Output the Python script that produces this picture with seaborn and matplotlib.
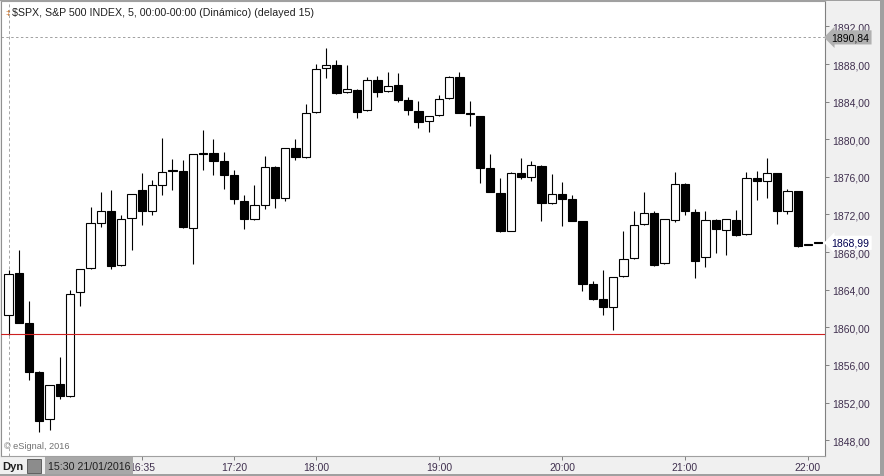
import numpy as np
import pandas as pd
import seaborn as sns
import matplotlib
matplotlib.use("Agg")
import matplotlib.pyplot as plt
from matplotlib.patches import Rectangle
from matplotlib.transforms import blended_transform_factory


# 5 minute candles, 15:30 -> 22:05
opens = [1861.34, 1865.78, 1860.43, 1855.21, 1850.21, 1853.94, 1852.66, 1863.72, 1866.28, 1871.06,
         1872.34, 1866.60, 1871.60, 1874.57, 1872.34, 1875.11, 1876.70, 1876.60, 1870.60, 1878.50,
         1878.51, 1877.66, 1876.17, 1873.40, 1871.49, 1872.98, 1877.02, 1873.72, 1879.04, 1878.09,
         1882.87, 1887.55, 1887.87, 1884.99, 1885.20, 1883.08, 1886.28, 1885.10, 1885.74, 1884.15,
         1882.98, 1881.91, 1882.55, 1884.36, 1886.60, 1882.76, 1882.45, 1876.91, 1874.26, 1870.28,
         1876.38, 1875.96, 1877.13, 1873.26, 1874.15, 1873.62, 1871.30, 1864.57, 1863.04, 1862.19,
         1865.43, 1867.34, 1870.96, 1872.13, 1866.81, 1871.38, 1875.24, 1872.27, 1867.45, 1871.41,
         1870.32, 1871.41, 1869.89, 1875.85, 1875.53, 1876.38, 1872.34, 1874.47, 1868.82, 1869.00]
highs = [1866.10, 1868.22, 1862.80, 1855.30, 1853.90, 1856.84, 1863.97, 1866.20, 1872.80, 1874.39,
         1874.60, 1871.90, 1874.20, 1876.41, 1875.67, 1880.14, 1877.90, 1877.80, 1878.45, 1880.99,
         1880.03, 1878.65, 1876.73, 1874.07, 1875.14, 1878.22, 1877.16, 1879.10, 1880.03, 1883.76,
         1888.01, 1889.71, 1888.44, 1887.90, 1885.32, 1886.66, 1886.73, 1887.16, 1887.05, 1884.47,
         1884.07, 1882.50, 1884.68, 1886.70, 1887.16, 1884.07, 1882.50, 1878.44, 1875.88, 1876.49,
         1878.00, 1877.69, 1877.27, 1876.31, 1875.46, 1874.07, 1871.35, 1864.90, 1866.10, 1865.35,
         1870.24, 1872.37, 1874.39, 1872.37, 1871.50, 1876.52, 1875.35, 1872.59, 1872.37, 1871.52,
         1871.50, 1872.48, 1876.52, 1876.63, 1878.01, 1876.40, 1874.71, 1874.50, 1868.85, 1869.02]
lows = [1859.20, 1860.43, 1854.43, 1848.90, 1849.10, 1852.34, 1852.60, 1862.30, 1866.20, 1870.70,
        1866.23, 1866.50, 1868.25, 1870.91, 1871.98, 1874.07, 1874.64, 1870.60, 1866.73, 1876.77,
        1876.23, 1874.74, 1873.15, 1870.49, 1871.40, 1872.62, 1872.72, 1873.44, 1877.83, 1878.00,
        1882.80, 1886.55, 1884.82, 1884.95, 1882.30, 1883.00, 1884.53, 1885.05, 1884.00, 1882.62,
        1881.23, 1880.81, 1882.50, 1884.30, 1882.80, 1881.45, 1875.38, 1874.40, 1870.14, 1870.20,
        1875.80, 1875.60, 1871.34, 1873.15, 1870.81, 1871.30, 1863.90, 1862.94, 1861.34, 1859.74,
        1865.40, 1867.30, 1870.90, 1866.55, 1866.75, 1871.23, 1871.98, 1865.28, 1866.45, 1867.87,
        1867.72, 1869.74, 1869.85, 1873.57, 1873.79, 1871.02, 1872.02, 1868.57, 1868.75, 1868.95]
closes = [1865.64, 1860.49, 1855.28, 1850.06, 1853.83, 1852.66, 1863.51, 1866.17, 1871.06, 1872.34,
          1866.49, 1871.49, 1874.15, 1872.40, 1875.11, 1876.49, 1876.62, 1870.62, 1878.40, 1878.45,
          1877.72, 1876.23, 1873.68, 1871.55, 1872.98, 1877.02, 1873.79, 1879.04, 1878.15, 1882.77,
          1887.45, 1887.87, 1884.96, 1885.32, 1882.94, 1886.28, 1885.06, 1885.64, 1884.21, 1883.08,
          1881.87, 1882.45, 1884.26, 1886.60, 1882.83, 1882.70, 1876.91, 1874.43, 1870.28, 1876.38,
          1876.02, 1877.23, 1873.26, 1874.15, 1873.68, 1871.34, 1864.64, 1863.04, 1862.19, 1865.32,
          1867.23, 1870.85, 1872.13, 1866.66, 1871.49, 1875.21, 1872.34, 1867.09, 1871.41, 1870.49,
          1871.49, 1869.85, 1875.85, 1875.53, 1876.38, 1872.34, 1874.47, 1868.68, 1868.78, 1868.99]

tick_pos = [13, 22, 30, 42, 54, 66, 78]
tick_labels = ["16:35", "17:20", "18:00", "19:00", "20:00", "21:00", "22:00"]
price_ticks = list(range(1848, 1893, 4))
ref_high = 1890.84
ref_line = 1859.3
last_price = 1868.99

title = "$SPX, S&P 500 INDEX, 5, 00:00-00:00 (Dinámico) (delayed 15)"

sns.set_theme(style="white")
plt.rcParams['font.family'] = ['Liberation Sans', 'DejaVu Sans']

df = pd.DataFrame(dict(o=opens, h=highs, l=lows, c=closes))
df['i'] = np.arange(len(df))
df['up'] = df.c > df.o

W, H = 884, 477
fig = plt.figure(figsize=(W / 100, H / 100), dpi=100, facecolor='#f0f0f0')
ax = fig.add_axes([1 / W, 20 / H, 824 / W, 455 / H])
ax.set_facecolor('white')

# wicks then bodies
ax.vlines(df.i, df.l, df.h, color='black', lw=0.8, zorder=2)
body = (df.c - df.o).abs().clip(lower=0.12)
bottom = df[['o', 'c']].min(axis=1)
ax.bar(df.i, body, bottom=bottom, width=0.81,
       color=np.where(df.up, 'white', 'black'),
       edgecolor='black', linewidth=0.8, zorder=3)

ax.axhline(ref_high, color='#a0a0a0', lw=0.7, ls=(0, (2.5, 2.5)), zorder=1)
ax.axhline(ref_line, color='#cc2020', lw=0.8, zorder=4)
ax.axvline(0, color='#a8a8a8', lw=0.7, ls=(0, (3, 2.5)), zorder=1)

ax.set_xlim(-0.732, 79.66)
ax.set_ylim(1846.31, 1894.71)

ax.yaxis.tick_right()
ax.set_yticks(price_ticks, [f"{v:.2f}".replace('.', ',') for v in price_ticks])
ax.set_xticks(tick_pos, tick_labels)
ax.tick_params(axis='y', right=True, left=False, labelright=True, labelleft=False,
               direction='out', length=3, width=0.7, color='#808080',
               labelsize=7.5, labelcolor='#40304f', pad=2)
ax.tick_params(axis='x', bottom=True, direction='out', length=3, width=0.7,
               color='#808080', labelsize=7.5, labelcolor='#40304f', pad=1.5)

for side, col in [('left', '#909090'), ('right', '#808080'),
                  ('top', '#a0a0a0'), ('bottom', '#a0a0a0')]:
    ax.spines[side].set_visible(True)
    ax.spines[side].set_color(col)
    ax.spines[side].set_linewidth(0.8)

# price tags on the right axis
trans = blended_transform_factory(ax.transAxes, ax.transData)
ax.text(1.008, ref_high, f"{ref_high:.2f}".replace('.', ','), transform=trans,
        fontsize=7.5, va='center', ha='left', color='black', clip_on=False, zorder=10,
        bbox=dict(boxstyle='larrow,pad=0.2', fc='#b0b0b0', ec='none'))
ax.text(1.008, last_price, f"{last_price:.2f}".replace('.', ','), transform=trans,
        fontsize=7.5, va='center', ha='left', color='#000050', clip_on=False, zorder=10,
        bbox=dict(boxstyle='larrow,pad=0.2', fc='white', ec='none'))

# header / footer
fig.text(5 / W, 1 - 13 / H, "‡", fontsize=6, color='#c06010', va='center')
fig.text(12 / W, 1 - 13 / H, title, fontsize=7.7, color='#202020', va='center')
fig.text(4 / W, 1 - 447 / H, "© eSignal, 2016", fontsize=6.6, color='#707070', va='center')

fig.patches.append(Rectangle((0, 1 - 2 / H), 1, 2 / H, transform=fig.transFigure,
                             fc='#a0a0a0', ec='none'))
fig.patches.append(Rectangle((880 / W, 0), 4 / W, 1, transform=fig.transFigure,
                             fc='#a0a0a0', ec='none'))
fig.patches.append(Rectangle((0, 0), 1, 2 / H, transform=fig.transFigure,
                             fc='#a0a0a0', ec='none'))
fig.patches.append(Rectangle((27 / W, 3 / H), 14 / W, 14 / H, transform=fig.transFigure,
                             fc='#8c8c8c', ec='#606060', lw=0.7))
fig.patches.append(Rectangle((45 / W, 2 / H), 88 / W, 17 / H, transform=fig.transFigure,
                             fc='#a8a8a8', ec='none'))
fig.text(2 / W, 10 / H, "Dyn", fontsize=8, fontweight='bold', color='#202020', va='center')
fig.text(89 / W, 10 / H, "15:30 21/01/2016", fontsize=7.7, color='#202020',
         va='center', ha='center')

fig.savefig("out.png", dpi=100, facecolor=fig.get_facecolor())
